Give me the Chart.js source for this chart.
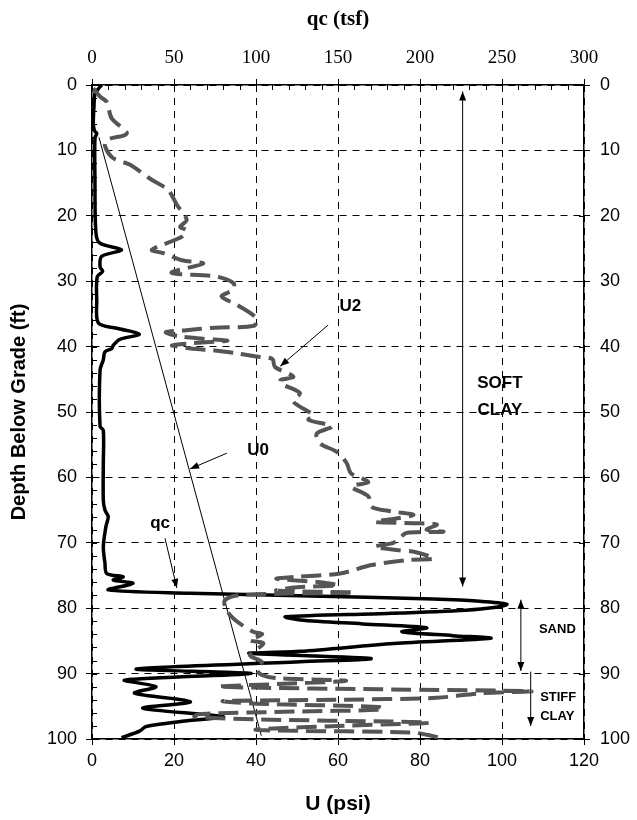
<!DOCTYPE html>
<html>
<head>
<meta charset="utf-8">
<script src="https://cdn.jsdelivr.net/npm/chart.js@4.4.1/dist/chart.umd.min.js"></script>
<style>
  html, body { margin: 0; padding: 0; background: #fff; }
  canvas { display: block; }
</style>
</head>
<body>
<canvas id="grafico" width="637" height="820"></canvas>
<script>
// tick labels
const depthTicks = [0, 10, 20, 30, 40, 50, 60, 70, 80, 90, 100];
const psiTicks = [0, 20, 40, 60, 80, 100, 120];
const tsfTicks = [0, 50, 100, 150, 200, 250, 300];

// qc (tsf) vs depth (ft)
const qcDepth = [0, 0.7, 1.3, 3.3, 5.9, 7.0, 7.4, 8.1, 14.5, 22.6, 24.2, 25.2, 26.2, 27.8, 28.5, 29.3, 32.9,
  36.4, 37.2, 38.1, 38.9, 39.8, 40.3, 40.8, 42.0, 43.6, 52.2, 52.8, 57.8, 63.5, 65.0, 66.0, 67.5, 70.6,
  73.1, 74.7, 75.2, 75.7, 76.2, 77.2, 77.7, 78.1, 78.6, 79.0, 79.4, 79.9, 80.3, 80.8, 81.3, 81.8,
  82.4, 83.0, 83.6, 84.2, 84.6, 85.4, 86.6, 86.9, 87.7, 88.2, 89.3, 90.0, 91.0, 92.0, 93.0, 94.3,
  95.3, 96.6, 97.3, 98.1, 98.8, 99.8];
const qcTsf = [5.9, 3.5, 1.8, 1.2, 0.8, 1.5, 2.9, 1.8, 1.8, 2.4, 4.9, 18, 5.9, 4.9, 6.5, 3.2, 2.9,
  3.9, 15, 28.9, 17, 13, 12, 7.9, 6.9, 4.9, 4.9, 6.9, 6.9, 6.9, 7.9, 9.9, 8.5, 6.9,
  7.9, 9, 19, 13, 25, 10, 60, 127, 208, 240, 253, 245, 228, 180, 118, 127,
  165, 204, 189, 220, 243, 184, 127, 96, 170, 127, 27, 97, 20, 39, 26, 60,
  31, 80, 55, 33, 29, 18];

// U2 (psi) vs depth (ft)
const u2Depth = [0.5, 1.8, 2.6, 5.1, 7.4, 8.4, 9.4, 11.2, 12.2, 14.3, 15.5, 16.0, 18.3, 20.6, 21.7, 22.2,
  23.2, 25.2, 25.7, 26.8, 27.3, 28.7, 29.3, 30.3, 31.3, 32.3, 33.6, 35.7, 36.8, 37.1, 37.5, 37.8,
  38.4, 38.8, 39.1, 39.5, 39.8, 40.2, 40.6, 41.0, 41.5, 41.9, 43.1, 44.6, 45.1, 45.6, 47.1, 48.4,
  50.5, 51.2, 52.2, 53.3, 54.8, 56.1, 57.8, 59.4, 60.7, 61.4, 62.9, 64.5, 65.2, 65.7, 66.2, 66.8,
  67.0, 67.2, 68.0, 68.3, 68.5, 69.3, 70.0, 70.6, 71.1, 71.4, 72.4, 72.6, 73.4, 74.7, 75.2, 75.5,
  76.0, 76.5, 76.8, 77.3, 77.6, 78.0, 78.8, 80.3, 81.8, 83.6, 84.0, 84.9, 85.4, 87.2, 88.2, 89.4,
  90.2, 90.7, 91.1, 91.6, 92.0, 92.4, 92.7, 93.0, 93.7, 94.0, 94.2, 94.6, 95.1, 95.5, 95.8, 96.2,
  96.6, 97.0, 97.5, 98.0, 98.6, 99.0, 99.4, 100.0];
const u2Psi = [0.3, 2.0, 3.6, 4.8, 8.5, 3.6, 3.2, 5.2, 9.3, 14.1, 17.4, 18.6, 20.7, 23.1, 21.5, 23.0,
  21.9, 14.6, 17.4, 21.9, 27.1, 19.4, 30.4, 34.5, 34.5, 31.6, 35.3, 40.2, 39.5, 30, 23, 18,
  21, 27, 33, 24, 19.5, 23, 30, 35, 40, 44, 44.6, 49.1, 46, 45.9, 50.7, 49.1,
  54, 52.8, 58.5, 54.8, 55.6, 59.7, 62.1, 63.2, 67.4, 63.3, 67.4, 68.2, 73.1, 78.4, 75, 69,
  78.4, 84.1, 81.6, 85.7, 76.7, 75, 73.5, 69, 74.3, 78.8, 83.3, 77.6, 68.2, 60.5, 50, 45,
  55, 60, 50, 45, 64, 36, 32.4, 32.8, 34.9, 39.3, 41.5, 38.5, 41.8, 38.5, 41.4, 40.2,
  41.4, 45, 62, 45, 31, 70, 107, 95, 84, 60, 32, 40, 70, 71, 50, 26,
  25, 40, 82, 60, 40, 78, 82, 86];

// U0 hydrostatic (psi) vs depth (ft)
const u0Depth = [8, 99.5];
const u0Psi = [1.7, 41.3];

const puntos = (xs, ys) => xs.map((v, i) => ({ x: v, y: ys[i] }));

function flecha(ctx, x1, y1, x2, y2, dos) {
  ctx.beginPath();
  ctx.moveTo(x1, y1);
  ctx.lineTo(x2, y2);
  ctx.stroke();
  const cabeza = (xa, ya, xb, yb) => {
    const ang = Math.atan2(yb - ya, xb - xa);
    ctx.beginPath();
    ctx.moveTo(xb, yb);
    ctx.lineTo(xb - 9 * Math.cos(ang) + 3.5 * Math.sin(ang), yb - 9 * Math.sin(ang) - 3.5 * Math.cos(ang));
    ctx.lineTo(xb - 9 * Math.cos(ang) - 3.5 * Math.sin(ang), yb - 9 * Math.sin(ang) + 3.5 * Math.cos(ang));
    ctx.closePath();
    ctx.fill();
  };
  cabeza(x1, y1, x2, y2);
  if (dos) cabeza(x2, y2, x1, y1);
}

const extras = {
  id: 'extras',
  afterDraw(chart) {
    const ctx = chart.ctx;
    const sx = chart.scales.x, sy = chart.scales.y, st = chart.scales.x2;
    const a = chart.chartArea;
    const X = v => sx.getPixelForValue(v);
    const Y = v => sy.getPixelForValue(v);
    ctx.save();
    ctx.strokeStyle = '#000';
    ctx.fillStyle = '#000';
    ctx.lineWidth = 1;
    // minor ticks left axis (every 2 ft), inner part of majors
    ctx.beginPath();
    for (let d = 0; d <= 100; d += 2) {
      const y = Math.round(Y(d)) + 0.5;
      ctx.moveTo(a.left, y);
      ctx.lineTo(a.left + 5, y);
      if (d % 10 === 0) {
        ctx.moveTo(a.right, y);
        ctx.lineTo(a.right - 5, y);
      }
    }
    // minor ticks top axis (every 10 tsf)
    for (let q = 0; q <= 300; q += 10) {
      const x = Math.round(st.getPixelForValue(q)) + 0.5;
      ctx.moveTo(x, a.top);
      ctx.lineTo(x, a.top + 5);
    }
    for (const p of psiTicks) {
      const x = Math.round(X(p)) + 0.5;
      ctx.moveTo(x, a.bottom);
      ctx.lineTo(x, a.bottom - 5);
    }
    ctx.stroke();

    // labels and arrows
    ctx.font = 'bold 17px "Liberation Sans", Arial, sans-serif';
    ctx.textAlign = 'center';
    ctx.textBaseline = 'middle';
    ctx.fillText('U2', X(63), Y(33.9));
    ctx.fillText('U0', X(40.5), Y(55.8));
    ctx.fillText('qc', X(16.6), Y(67));
    ctx.fillText('SOFT', X(99.5), Y(45.6));
    ctx.fillText('CLAY', X(99.5), Y(49.8));
    flecha(ctx, X(57.6), Y(36.7), X(45.9), Y(43), false);
    flecha(ctx, X(32.9), Y(56.3), X(23.9), Y(58.7), false);
    flecha(ctx, X(17.8), Y(69.3), X(20.7), Y(76.9), false);
    flecha(ctx, X(90.4), Y(1), X(90.4), Y(76.7), true);
    flecha(ctx, X(104.6), Y(78.7), X(104.6), Y(89.6), true);
    flecha(ctx, X(107), Y(89.7), X(107), Y(98), false);

    ctx.font = 'bold 13px "Liberation Sans", Arial, sans-serif';
    ctx.fillText('SAND', X(113.5), Y(83.2));
    ctx.beginPath();
    ctx.rect(a.left, a.top, a.right - a.left, a.bottom - a.top);
    ctx.clip();
    ctx.textAlign = 'left';
    ctx.fillText('STIFF', X(109.3), Y(93.6));
    ctx.fillText('CLAY', X(109.3), Y(96.6));
    ctx.restore();
  }
};

const fuenteArial = { family: '"Liberation Sans", Arial, sans-serif', size: 18 };
const fuenteTimes = { family: '"Liberation Serif", "Times New Roman", serif', size: 19 };

const ctx = document.getElementById('grafico').getContext('2d');
const grafico = new Chart(ctx, {
  type: 'scatter',
  data: {
    datasets: [
      {
        label: 'U2',
        data: puntos(u2Psi, u2Depth),
        xAxisID: 'x', yAxisID: 'y',
        showLine: true, pointRadius: 0,
        borderColor: '#555555', borderWidth: 4,
        borderDash: [20, 8], tension: 0.3
      },
      {
        label: 'qc',
        data: puntos(qcTsf, qcDepth),
        xAxisID: 'x2', yAxisID: 'y',
        showLine: true, pointRadius: 0,
        borderColor: '#000000', borderWidth: 3.5, tension: 0.3
      },
      {
        label: 'U0',
        data: puntos(u0Psi, u0Depth),
        xAxisID: 'x', yAxisID: 'y',
        showLine: true, pointRadius: 0,
        borderColor: '#000000', borderWidth: 1
      }
    ]
  },
  options: {
    responsive: false,
    animation: false,
    devicePixelRatio: 1,
    plugins: { legend: { display: false }, tooltip: { enabled: false } },
    layout: { padding: 0 },
    scales: {
      x: {
        type: 'linear', position: 'bottom', min: 0, max: 120,
        afterBuildTicks: s => { s.ticks = psiTicks.map(v => ({ value: v })); },
        afterFit: s => { s.height = 81; },
        ticks: { color: '#000', font: fuenteArial, padding: 5, maxRotation: 0 },
        grid: { color: '#000', lineWidth: 1, tickLength: 6, tickColor: '#000' },
        border: { display: true, color: '#000', width: 1.5, dash: [7, 6] },
        title: { display: true, text: 'U (psi)', color: '#000',
          font: { family: '"Liberation Sans", Arial, sans-serif', size: 21, weight: 'bold' },
          padding: { top: 0, bottom: 3 } }
      },
      x2: {
        type: 'linear', position: 'top', min: 0, max: 300,
        afterBuildTicks: s => { s.ticks = tsfTicks.map(v => ({ value: v })); },
        afterFit: s => { s.height = 85; },
        ticks: { color: '#000', font: fuenteTimes, padding: 10, maxRotation: 0 },
        grid: { drawOnChartArea: false, color: '#000', tickLength: 6 },
        border: { display: true, color: '#000', width: 1.5 },
        title: { display: true, text: 'qc (tsf)', color: '#000',
          font: { family: '"Liberation Serif", "Times New Roman", serif', size: 21, weight: 'bold' },
          padding: { top: 7, bottom: 0 } }
      },
      y: {
        type: 'linear', position: 'left', min: 0, max: 100, reverse: true,
        afterBuildTicks: s => { s.ticks = depthTicks.map(v => ({ value: v })); },
        afterFit: s => { s.width = 92; },
        ticks: { color: '#000', font: fuenteArial, padding: 9 },
        grid: { color: '#000', lineWidth: 1, tickLength: 6, tickColor: '#000' },
        border: { display: true, color: '#000', width: 1.5, dash: [7, 6] },
        title: { display: true, text: 'Depth Below Grade (ft)', color: '#000',
          font: { family: '"Liberation Sans", Arial, sans-serif', size: 20, weight: 'bold' },
          padding: { top: 7, bottom: 0 } }
      },
      y2: {
        type: 'linear', position: 'right', min: 0, max: 100, reverse: true,
        afterBuildTicks: s => { s.ticks = depthTicks.map(v => ({ value: v })); },
        afterFit: s => { s.width = 53; },
        ticks: { color: '#000', font: fuenteArial, padding: 10 },
        grid: { drawOnChartArea: false, color: '#000', tickLength: 6 },
        border: { display: true, color: '#000', width: 1.5 }
      }
    }
  },
  plugins: [extras]
});
</script>
</body>
</html>
